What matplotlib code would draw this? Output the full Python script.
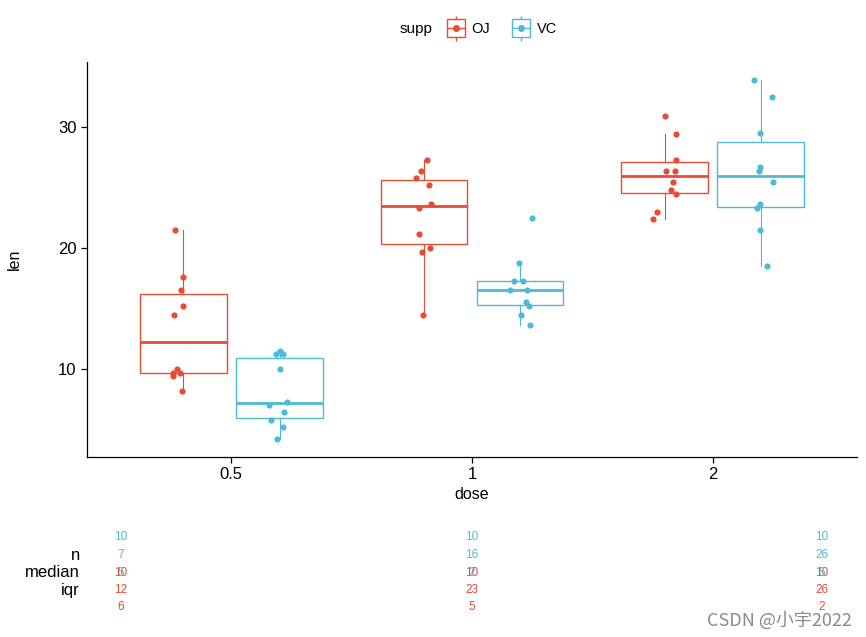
import matplotlib
matplotlib.use('Agg')
import matplotlib.pyplot as plt
from matplotlib.lines import Line2D
from matplotlib.legend_handler import HandlerTuple
import numpy as np

plt.rcParams['font.family'] = ['Liberation Sans', 'DejaVu Sans']

doses = ['0.5', '1', '2']
groups = ['OJ', 'VC']
colors = {'OJ': '#E64B35', 'VC': '#4DBBD5'}

# ToothGrowth tooth length per supplement and dose
len_oj = [
    [15.2, 21.5, 17.6, 9.7, 14.5, 10.0, 8.2, 9.4, 16.5, 9.7],
    [19.7, 23.3, 23.6, 26.4, 20.0, 25.2, 25.8, 21.2, 14.5, 27.3],
    [25.5, 26.4, 22.4, 24.5, 24.8, 30.9, 26.4, 27.3, 29.4, 23.0],
]
len_vc = [
    [4.2, 11.5, 7.3, 5.8, 6.4, 10.0, 11.2, 11.2, 5.2, 7.0],
    [16.5, 16.5, 15.2, 17.3, 22.5, 17.3, 13.6, 14.5, 18.8, 15.5],
    [23.6, 18.5, 33.9, 25.5, 26.4, 32.5, 26.7, 21.5, 23.3, 29.5],
]
# horizontal jitter (pixels), same order as values
jit_oj = [
    [0, -8, 0, -10, -9, -6, -1, -10, -2, -3],
    [-2, -5, 7, -3, 6, 5, -8, -5, -1, 3],
    [8, 1, -11, 11, 6, 0, 10, 11, 11, -7],
]
jit_vc = [
    [-2, 0, 7, -8, 4, 0, -3, 3, 3, -10],
    [-10, 7, 9, -6, 12, 3, 10, 1, -1, 6],
    [-1, 6, -7, 12, -2, 11, -1, -1, -4, -1],
]
data = {'OJ': (len_oj, jit_oj), 'VC': (len_vc, jit_vc)}

fig = plt.figure(figsize=(8.66, 6.37), dpi=100)
ax = fig.add_axes([87 / 866, 1 - 457 / 637, 770 / 866, 395 / 637])

px = 240.0
for g in groups:
    vals, jit = data[g]
    c = colors[g]
    off = -0.2 if g == 'OJ' else 0.2
    pos = [i + 1 + off for i in range(3)]
    ax.boxplot(vals, positions=pos, widths=0.36, showfliers=False,
               patch_artist=True, manage_ticks=False,
               boxprops=dict(facecolor='white', edgecolor=c, linewidth=1.0),
               medianprops=dict(color=c, linewidth=2.0),
               whiskerprops=dict(color=c, linewidth=0.8),
               capprops=dict(linewidth=0), zorder=2)
    for i in range(3):
        xs = pos[i] + np.array(jit[i]) / px
        ax.scatter(xs, vals[i], s=20, color=c, zorder=3, linewidths=0)

ax.set_xlim(0.4, 3.6)
ax.set_ylim(2.715, 35.385)
ax.set_xticks([1, 2, 3])
ax.set_xticklabels(doses)
ax.set_yticks([10, 20, 30])
ax.spines['top'].set_visible(False)
ax.spines['right'].set_visible(False)
ax.spines['left'].set_linewidth(0.9)
ax.spines['bottom'].set_linewidth(0.9)
ax.tick_params(length=4, width=0.9, labelsize=12, colors='black')
ax.set_xlabel('dose', fontsize=11.5, labelpad=3)
ax.set_ylabel('len', fontsize=11.5)
ax.yaxis.set_label_coords((22 - 87) / 770, 0.5)

# legend on top
def handle(c):
    return (Line2D([], [], marker='|', markersize=18, mew=1, color=c, ls=''),
            Line2D([], [], marker='s', markersize=13, mfc='white', mec=c, mew=1, ls=''),
            Line2D([], [], marker='_', markersize=13, mew=1, color=c, ls=''),
            Line2D([], [], marker='o', markersize=4, color=c, ls=''))

fig.text(432 / 866, 1 - 29 / 637, 'supp', fontsize=11, ha='right', va='center')
fig.legend([handle(colors[g]) for g in groups], groups,
           handler_map={tuple: HandlerTuple(ndivide=1)},
           loc='center left', bbox_to_anchor=(438 / 866, 1 - 29 / 637),
           ncol=2, frameon=False, fontsize=10.5, handlelength=1.4,
           columnspacing=1.4, handletextpad=0.4, borderpad=0)

# summary table below
tab = fig.add_axes([0, 12 / 637, 1, 105 / 637])
tab.set_xlim(1 - 121 / 350.5, 1 + 745 / 350.5)
tab.set_ylim(-1, 5)
tab.axis('off')
rows = ['n', 'median', 'iqr']
row_y = [3, 2, 1]
for r, y in zip(rows, row_y):
    tab.text(1 - 41 / 350.5, y, r, ha='right', va='center', fontsize=12)
for g in groups:
    vals, _ = data[g]
    shift = 1 if g == 'VC' else -1
    for i in range(3):
        v = np.array(vals[i])
        q1, q3 = np.percentile(v, [25, 75])
        stats = [len(v), np.round(np.median(v)), np.round(q3 - q1)]
        for s, y in zip(stats, row_y):
            tab.text(i + 1, y + shift, '%d' % s, ha='center', va='center',
                     fontsize=8.5, color=colors[g])

fig.text(852 / 866, 1 - 620 / 637, 'CSDN @小宇2022', ha='right', va='center',
         fontsize=13, color='#8a8a8a',
         family=['Noto Sans CJK SC', 'DejaVu Sans'])

fig.savefig('out.png', dpi=100)
